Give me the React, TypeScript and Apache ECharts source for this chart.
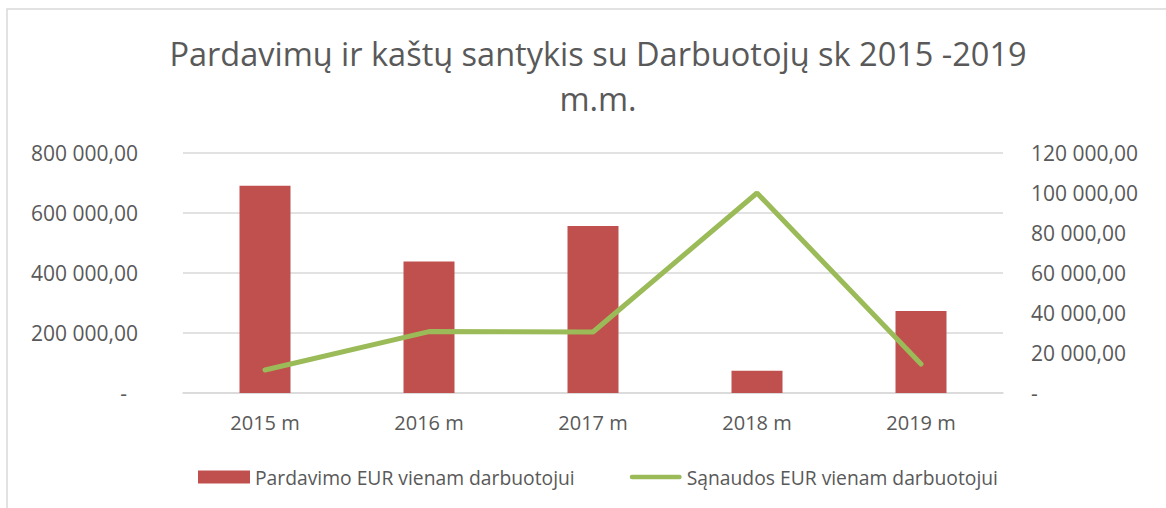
import React, { useEffect, useRef } from "react";
import * as echarts from "echarts";

const categories = ["2015 m", "2016 m", "2017 m", "2018 m", "2019 m"];
const salesPerEmployee = [691000, 438000, 557000, 74000, 273000];
const costsPerEmployee = [11500, 30700, 30500, 100000, 14500];
const titleLines = ["Pardavimų ir kaštų santykis su Darbuotojų sk 2015 -2019", "m.m."];
const seriesNames = ["Pardavimo EUR vienam darbuotojui", "Sąnaudos EUR vienam darbuotojui"];

const FONT = "Open Sans";
const TEXT = "#595959";

function fmt(v: number): string {
  if (v === 0) return "-";
  const s = Math.round(v).toString().replace(/\B(?=(\d{3})+(?!\d))/g, " ");
  return s + ",00";
}

export default function App() {
  const ref = useRef<HTMLDivElement>(null);
  useEffect(() => {
    if (!ref.current) return;
    const chart = echarts.init(ref.current, null, { renderer: "svg" });
    chart.setOption({
      animation: false,
      backgroundColor: "#ffffff",
      textStyle: { fontFamily: FONT },
      graphic: [
        {
          type: "rect",
          shape: { x: 7, y: 9, width: 1300, height: 600 },
          style: { fill: "none", stroke: "#d9d9d9", lineWidth: 1.5 },
          silent: true,
        },
      ],
      title: {
        text: titleLines.join("\n"),
        left: 593,
        textAlign: "center",
        top: 26,
        textStyle: {
          fontFamily: FONT,
          fontSize: 32.5,
          fontWeight: "normal",
          color: TEXT,
          lineHeight: 45,
        },
      },
      legend: {
        left: 193,
        top: 461,
        itemWidth: 52,
        itemHeight: 13,
        itemGap: 55,
        symbolKeepAspect: true,
        textStyle: { fontFamily: FONT, fontSize: 19.3, color: TEXT, lineHeight: 22 },
        data: [
          { name: seriesNames[0], icon: "rect" },
          {
            name: seriesNames[1],
            icon: "path://M2.5,0 L53.5,0 A2.5,2.5 0 0 1 53.5,5 L2.5,5 A2.5,2.5 0 0 1 2.5,0 Z",
          },
        ],
      },
      grid: { left: 183, right: 163, top: 153, bottom: 115, containLabel: false },
      xAxis: {
        type: "category",
        data: categories,
        axisLine: { lineStyle: { color: "#d9d9d9", width: 1.5 } },
        axisTick: { show: false },
        axisLabel: { fontFamily: FONT, fontSize: 20, color: TEXT, margin: 19 },
      },
      yAxis: [
        {
          type: "value",
          min: 0,
          max: 800000,
          interval: 200000,
          axisLine: { show: false },
          axisTick: { show: false },
          splitLine: { lineStyle: { color: "#d9d9d9", width: 1.5 } },
          axisLabel: {
            fontFamily: FONT,
            fontSize: 21,
            color: TEXT,
            margin: 45,
            formatter: (v: number) => (v === 0 ? "{z|-}" : fmt(v)),
            rich: { z: { fontFamily: FONT, fontSize: 21, color: TEXT, padding: [0, 11, 0, 0] } },
          },
        },
        {
          type: "value",
          min: 0,
          max: 120000,
          interval: 20000,
          position: "right",
          axisLine: { show: false },
          axisTick: { show: false },
          splitLine: { show: false },
          axisLabel: {
            fontFamily: FONT,
            fontSize: 21,
            color: TEXT,
            margin: 28,
            formatter: (v: number) => fmt(v),
          },
        },
      ],
      series: [
        {
          name: seriesNames[0],
          type: "bar",
          data: salesPerEmployee,
          barWidth: 51,
          yAxisIndex: 0,
          itemStyle: { color: "#C0504D" },
        },
        {
          name: seriesNames[1],
          type: "line",
          data: costsPerEmployee,
          yAxisIndex: 1,
          symbol: "none",
          lineStyle: { color: "#9BBB59", width: 5, cap: "round" },
          itemStyle: { color: "#9BBB59" },
        },
      ],
    });
    return () => chart.dispose();
  }, []);
  return <div ref={ref} style={{ width: 1166, height: 508, position: "absolute", left: 0, top: 0 }} />;
}
